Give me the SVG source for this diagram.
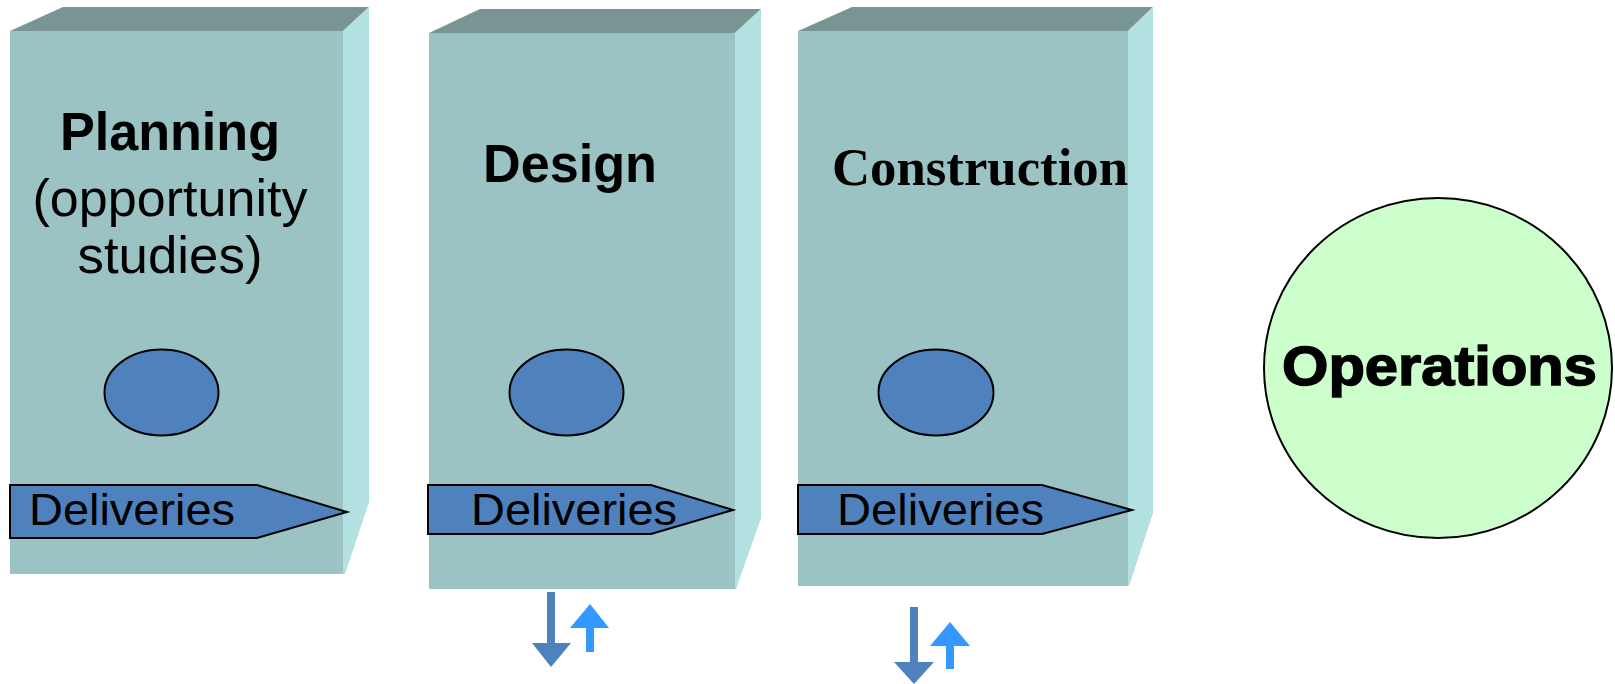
<svg xmlns="http://www.w3.org/2000/svg" width="1615" height="684" viewBox="0 0 1615 684">
<style>
.front{fill:#9BC3C4}
.top{fill:#789594}
.side{fill:#B3E0E1}
.oval{fill:#4F81BD;stroke:#000;stroke-width:2}
.deliv{fill:#4F81BD;stroke:#000;stroke-width:2}
.dtxt{font-family:"Liberation Sans",Arial,sans-serif;font-size:45px;fill:#000}
.title{font-family:"Liberation Sans",Arial,sans-serif;font-weight:bold;font-size:53px;fill:#000;text-anchor:middle}
.sub{font-family:"Liberation Sans",Arial,sans-serif;font-size:52px;fill:#000;text-anchor:middle}
.down{fill:#4F81BD}
.up{fill:#3399FF}
</style>
<rect width="1615" height="684" fill="#FFFFFF"/>
<g id="planning">
<polygon class="top" points="10,31 63,7 369,7 343,31"/>
<polygon class="side" points="343,31 369,7 369,502 345,574 343,574"/>
<rect class="front" x="10" y="31" width="333" height="543"/>
<text class="title" x="170" y="150" textLength="220" lengthAdjust="spacingAndGlyphs">Planning</text>
<text class="sub" x="170" y="216" textLength="275" lengthAdjust="spacingAndGlyphs">(opportunity</text>
<text class="sub" x="170" y="273" textLength="185" lengthAdjust="spacingAndGlyphs">studies)</text>
<ellipse class="oval" cx="161.5" cy="392.5" rx="57" ry="43"/>
<polygon class="deliv" points="10,485 257,485 347,512 257,538 10,538"/>
<text class="dtxt" x="29" y="525" textLength="206" lengthAdjust="spacingAndGlyphs">Deliveries</text>
</g>
<g id="design">
<polygon class="top" points="429,33 480,9 761,9 735,33"/>
<polygon class="side" points="735,33 761,9 761,518 736,589 735,589"/>
<rect class="front" x="429" y="33" width="306" height="556"/>
<text class="title" x="570" y="182" textLength="174" lengthAdjust="spacingAndGlyphs">Design</text>
<ellipse class="oval" cx="566.5" cy="392.5" rx="57" ry="43"/>
<polygon class="deliv" points="428,485 651,485 733,510 651,534 428,534"/>
<text class="dtxt" x="471" y="525" textLength="206" lengthAdjust="spacingAndGlyphs">Deliveries</text>
</g>
<g id="construction">
<polygon class="top" points="798,31 852,7 1153,7 1128,31"/>
<polygon class="side" points="1128,31 1153,7 1153,513 1129,586 1128,586"/>
<rect class="front" x="798" y="31" width="330" height="555"/>
<text x="980" y="185" text-anchor="middle" font-family="'Liberation Serif','Times New Roman',serif" font-weight="bold" font-size="52" textLength="296" lengthAdjust="spacingAndGlyphs">Construction</text>
<ellipse class="oval" cx="936" cy="392.5" rx="57.5" ry="43"/>
<polygon class="deliv" points="798,485 1042,485 1132,510 1042,534 798,534"/>
<text class="dtxt" x="837" y="525" textLength="207" lengthAdjust="spacingAndGlyphs">Deliveries</text>
</g>
<g id="operations">
<ellipse cx="1438" cy="368" rx="174" ry="170" fill="#CCFFCC" stroke="#000" stroke-width="2"/>
<text x="1439.5" y="385" text-anchor="middle" font-family="'Liberation Sans',Arial,sans-serif" font-weight="bold" font-size="55" stroke="#000" stroke-width="1.5" textLength="315" lengthAdjust="spacingAndGlyphs">Operations</text>
</g>
<g id="connectors">
<polygon class="down" points="547,592 555,592 555,643 571,643 551,667 532,643 547,643"/>
<polygon class="up" points="590,604 609,628 594,628 594,652 586,652 586,628 570,628"/>
<polygon class="down" points="910,607 918,607 918,662 934,662 914,684 894,662 910,662"/>
<polygon class="up" points="950,622 970,646 954,646 954,669 946,669 946,646 930,646"/>
</g>
</svg>
